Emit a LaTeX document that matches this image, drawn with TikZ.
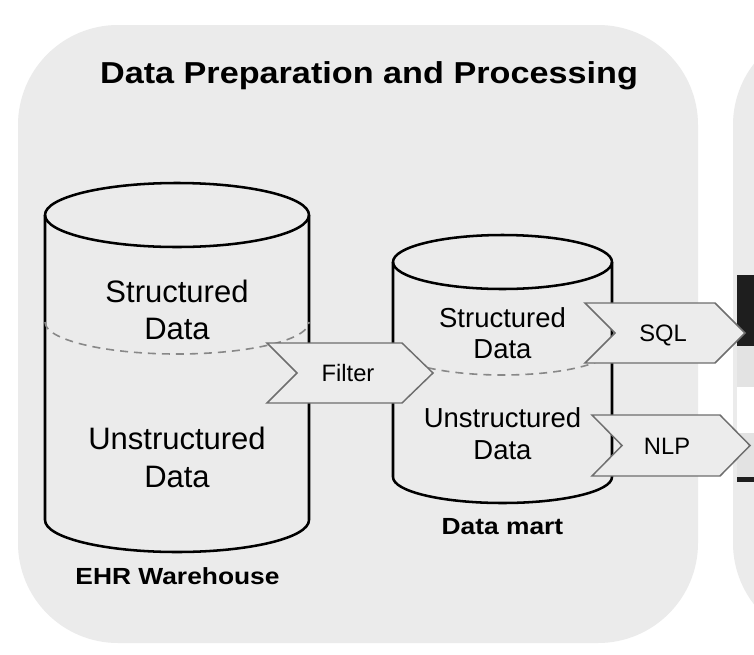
\documentclass[tikz,border=0pt]{standalone}
\usepackage{fontspec}
\setmainfont{Liberation Sans}
\newfontfamily\widefont[FakeStretch=1.13]{Liberation Sans}
\definecolor{panelgray}{HTML}{EBEBEB}
\definecolor{chevfill}{HTML}{ECECEC}
\definecolor{chevedge}{HTML}{6E6E6E}
\definecolor{sepgray}{HTML}{888888}
\definecolor{headdark}{HTML}{1E1E1E}
\definecolor{rowgray}{HTML}{E3E3E3}
\begin{document}
\begin{tikzpicture}[x=0.75pt,y=-0.75pt,
  panel/.style={fill=panelgray,rounded corners=75pt},
  cyl/.style={draw=black,line width=1.9pt},
  sepline/.style={draw=sepgray,line width=1.2pt,dash pattern=on 6pt off 4.5pt},
  chev/.style={draw=chevedge,fill=chevfill,line width=1.1pt,line join=miter},
  bigtxt/.style={anchor=base,inner sep=0pt,font=\fontsize{23.25}{28}\selectfont},
  midtxt/.style={anchor=base,inner sep=0pt,font=\fontsize{20.6}{25}\selectfont},
  chevtxt/.style={anchor=base,inner sep=0pt,font=\fontsize{17.8}{21}\selectfont},
  titletxt/.style={anchor=base,inner sep=0pt,font=\widefont\bfseries\fontsize{22.7}{27}\selectfont},
  labtxt/.style={anchor=base,inner sep=0pt,font=\widefont\bfseries\fontsize{17.5}{21}\selectfont}
]
\useasboundingbox (0,0) rectangle (754,654);
\clip (0,0) rectangle (754,654);
\fill[white] (0,0) rectangle (754,654);

% panels
\path[panel] (18,25) rectangle (698,643);
\path[panel] (733,25) rectangle (1200,643);

% table sliver in right panel
\fill[headdark] (737,275) rectangle (760,346);
\fill[rowgray] (737,346) rectangle (760,387);
\fill[white] (737,387) rectangle (760,433);
\fill[rowgray] (737,433) rectangle (760,477);
\fill[headdark] (737,477) rectangle (760,482);

% EHR warehouse cylinder
\draw[cyl] (45,215) -- (45,520) arc[start angle=180,end angle=0,x radius=132,y radius=32] -- (309,215);
\draw[cyl] (177,215) ellipse [x radius=132,y radius=32];
\draw[sepline] (45,322) arc[start angle=180,end angle=0,x radius=132,y radius=32];

% data mart cylinder
\draw[cyl] (393,262) -- (393,477) arc[start angle=180,end angle=0,x radius=109.5,y radius=26] -- (612,262);
\draw[cyl] (502.5,262) ellipse [x radius=109.5,y radius=27];
\draw[sepline] (393,348) arc[start angle=180,end angle=0,x radius=109.5,y radius=27];

% chevrons
\draw[chev] (267,343) -- (402,343) -- (433,373) -- (402,403) -- (267,403) -- (297,373) -- cycle;
\draw[chev] (585,303) -- (715,303) -- (745,333) -- (715,363) -- (585,363) -- (615,333) -- cycle;
\draw[chev] (592,415) -- (720,415) -- (750,445.5) -- (720,476) -- (592,476) -- (622,445.5) -- cycle;

% texts
\node[titletxt] (title) at (369,83.3) {Data Preparation and Processing};

\node[bigtxt] (ws1) at (177,302.5) {Structured};
\node[bigtxt] (ws2) at (177,339) {Data};
\node[bigtxt] (wu1) at (177,449.5) {Unstructured};
\node[bigtxt] (wu2) at (177,487) {Data};
\node[labtxt] (ehr) at (177.5,584) {EHR Warehouse};

\node[midtxt] (ds1) at (502.5,327) {Structured};
\node[midtxt] (ds2) at (502.5,358) {Data};
\node[midtxt] (du1) at (502.5,427) {Unstructured};
\node[midtxt] (du2) at (502.5,459) {Data};
\node[labtxt] (mart) at (502.5,534) {Data mart};

\node[chevtxt] (filter) at (348,381.6) {Filter};
\node[chevtxt] (sql) at (663,341.5) {SQL};
\node[chevtxt] (nlp) at (667,454) {NLP};
\end{tikzpicture}
\end{document}
